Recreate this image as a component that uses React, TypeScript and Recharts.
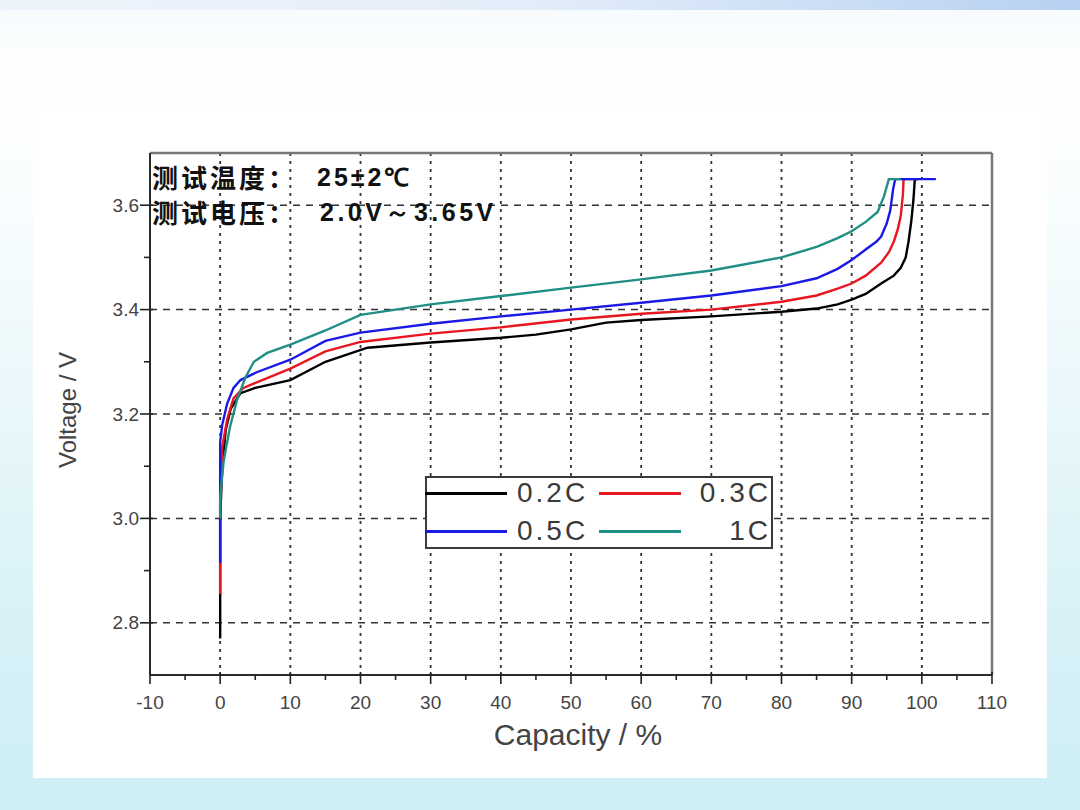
import React from 'react';
import { LineChart, Line, XAxis, YAxis, CartesianGrid, ReferenceLine, Legend } from 'recharts';

// capacity (%) / voltage (V), one pair per discharge rate
const cap02 = [0, 0, 0.3, 0.8, 1.5, 2.9, 5, 10, 15, 21, 30, 40, 45, 50, 55, 60, 70, 80, 85, 88, 90, 92, 94.2, 96, 97, 97.7, 98.1, 98.5, 98.8, 99, 99.5];
const volt02 = [2.77, 3.0, 3.1, 3.17, 3.21, 3.24, 3.25, 3.265, 3.3, 3.327, 3.337, 3.346, 3.352, 3.362, 3.375, 3.38, 3.387, 3.396, 3.402, 3.41, 3.419, 3.43, 3.45, 3.465, 3.48, 3.5, 3.53, 3.57, 3.61, 3.65, 3.65];

const cap03 = [0, 0, 0.3, 1, 1.9, 3.3, 6, 10, 15, 20, 30, 40, 50, 60, 70, 80, 85, 88, 90, 92, 94.2, 95.3, 96, 96.6, 97, 97.3, 97.4, 99.5];
const volt03 = [2.855, 3.0, 3.137, 3.19, 3.23, 3.25, 3.265, 3.287, 3.32, 3.338, 3.354, 3.366, 3.381, 3.392, 3.4, 3.415, 3.427, 3.44, 3.45, 3.465, 3.49, 3.51, 3.53, 3.555, 3.58, 3.62, 3.65, 3.65];

const cap05 = [0, 0, 0.3, 1, 1.9, 2.9, 5.2, 10, 15, 20, 30, 40, 50, 60, 70, 80, 85, 88, 90, 92, 93.5, 94.2, 95, 95.5, 95.9, 96.2, 102];
const volt05 = [2.915, 3.146, 3.18, 3.22, 3.25, 3.265, 3.28, 3.304, 3.34, 3.356, 3.373, 3.387, 3.4, 3.413, 3.427, 3.445, 3.46, 3.478, 3.495, 3.515, 3.53, 3.54, 3.565, 3.59, 3.63, 3.65, 3.65];

const cap1 = [0, 0, 0.5, 1.4, 2.4, 3.6, 4.8, 6.7, 10, 15, 20, 30, 40, 50, 60, 70, 80, 85, 88, 90, 92, 93.7, 94.6, 95.3, 97];
const volt1 = [3.0, 3.04, 3.11, 3.175, 3.227, 3.27, 3.3, 3.317, 3.333, 3.36, 3.39, 3.41, 3.426, 3.442, 3.458, 3.475, 3.5, 3.52, 3.537, 3.55, 3.568, 3.587, 3.617, 3.65, 3.65];

const xTicks = [-10, -5, 0, 5, 10, 15, 20, 25, 30, 35, 40, 45, 50, 55, 60, 65, 70, 75, 80, 85, 90, 95, 100, 105, 110];
const yTicks = [2.8, 2.9, 3.0, 3.1, 3.2, 3.3, 3.4, 3.5, 3.6];
const gridX = [0, 10, 20, 30, 40, 50, 60, 70, 80, 90, 100];
const gridY = [2.8, 3.0, 3.2, 3.4, 3.6];

const zip = (xs: number[], ys: number[]) => xs.map((x, i) => ({ x, v: ys[i] }));

const series = [
  { name: '0.2C', color: '#000000', data: zip(cap02, volt02) },
  { name: '0.3C', color: '#e8161e', data: zip(cap03, volt03) },
  { name: '0.5C', color: '#1a1ae6', data: zip(cap05, volt05) },
  { name: '1C', color: '#1f8f86', data: zip(cap1, volt1) },
];

const tickFont = { fontFamily: '"Liberation Sans Narrow", "Liberation Sans", Arial, sans-serif', fontSize: 19, fill: '#444' };

const YTick = (props: any) => {
  const { x, y, payload } = props;
  const major = Math.round(payload.value * 10) % 2 === 0;
  return (
    <g>
      <line x1={x - (major ? 10 : 6)} x2={x + (major ? 3 : 0)} y1={y} y2={y} stroke="#222" strokeWidth={1.6} />
      {major && (
        <text x={x - 11} y={y} dy="0.35em" textAnchor="end" {...tickFont}>
          {payload.value.toFixed(1)}
        </text>
      )}
    </g>
  );
};

const XTick = (props: any) => {
  const { x, y, payload } = props;
  const major = payload.value % 10 === 0;
  return (
    <g>
      <line x1={x} x2={x} y1={y - (major ? 3 : 0)} y2={y + (major ? 9 : 5)} stroke="#222" strokeWidth={1.6} />
      {major && (
        <text x={x} y={y + 27} dy="0.35em" textAnchor="middle" {...tickFont}>
          {payload.value}
        </text>
      )}
    </g>
  );
};

const LegendBox = (props: any) => {
  const items = props.payload || [];
  return (
    <div style={{ position: 'relative', width: 348, height: 73, boxSizing: 'border-box', border: '2px solid #3a3a3a', background: '#fff' }}>
      {items.map((it: any, i: number) => {
        const col = i % 2;
        const row = Math.floor(i / 2);
        const cy = row ? 53 : 15;
        const left = col ? 170 : -2;
        return (
          <div key={it.value} style={{ position: 'absolute', left, top: cy - 16, width: col ? 174 : 172, height: 32 }}>
            <div style={{ position: 'absolute', left: col ? 2 : 0, top: 15, width: 82, height: 3, background: it.color }} />
            <span
              style={{
                position: 'absolute',
                top: 0,
                lineHeight: '32px',
                fontFamily: '"Liberation Sans", Arial, sans-serif',
                fontSize: 28,
                letterSpacing: 3,
                color: '#3a3a3a',
                ...(col ? { right: 0 } : { left: 92 }),
              }}
            >
              {it.value}
            </span>
          </div>
        );
      })}
    </div>
  );
};

const cjk = '"Noto Sans CJK SC", "Noto Sans", sans-serif';
const latinBold = '"Liberation Sans", Arial, sans-serif';

export default function App() {
  return (
    <div
      style={{
        position: 'fixed',
        left: 0,
        top: 0,
        width: 1080,
        height: 810,
        overflow: 'hidden',
        background: 'linear-gradient(to bottom, #f7fbfd 0%, #ffffff 12%, #f3fbfd 35%, #d9f2f7 75%, #cdeef5 100%)',
      }}
    >
      <div style={{ position: 'absolute', left: 0, top: 0, width: 1080, height: 10, background: 'linear-gradient(to right, #eef4fb, #e3edf9 50%, #b7d1f2)' }} />
      <div style={{ position: 'absolute', left: 33, top: 112, width: 1014, height: 666, background: '#ffffff' }} />

      <div style={{ position: 'absolute', left: 0, top: 0 }}>
        <LineChart width={1080} height={810} data={series[0].data} margin={{ top: 153, right: 88, bottom: 95, left: 90 }}>
          <CartesianGrid vertical={false} horizontalValues={gridY} stroke="#333" strokeWidth={1.5} strokeDasharray="7 6" />
          <CartesianGrid horizontal={false} verticalValues={gridX} stroke="#333" strokeWidth={1.8} strokeDasharray="3 5" />
          <XAxis
            type="number"
            dataKey="x"
            domain={[-10, 110]}
            ticks={xTicks}
            interval={0}
            allowDataOverflow
            height={40}
            tickSize={0}
            tickMargin={0}
            tick={<XTick />}
            axisLine={{ stroke: '#2a2a2a', strokeWidth: 2 }}
          />
          <YAxis
            type="number"
            domain={[2.7, 3.7]}
            ticks={yTicks}
            interval={0}
            allowDataOverflow
            width={60}
            tickSize={0}
            tickMargin={0}
            tick={<YTick />}
            axisLine={{ stroke: '#2a2a2a', strokeWidth: 2 }}
          />
          <ReferenceLine y={3.7} stroke="#777" strokeWidth={2.5} />
          <ReferenceLine x={110} stroke="#777" strokeWidth={2.5} />
          {series.map((s) => (
            <Line
              key={s.name}
              name={s.name}
              data={s.data}
              dataKey="v"
              type="linear"
              stroke={s.color}
              strokeWidth={2.4}
              dot={false}
              activeDot={false}
              isAnimationActive={false}
            />
          ))}
          <Legend
            layout="vertical"
            align="center"
            verticalAlign="middle"
            content={<LegendBox />}
            wrapperStyle={{ left: 425, top: 476, width: 348, height: 73 }}
          />
        </LineChart>
      </div>

      {/* annotation in the top-left of the plot */}
      <div style={{ position: 'absolute', left: 152, top: 161, fontFamily: cjk, fontWeight: 700, fontSize: 26, lineHeight: '32px', color: '#111', letterSpacing: 3 }}>
        测试温度：
      </div>
      <div style={{ position: 'absolute', left: 317, top: 162, fontFamily: latinBold, fontWeight: 700, fontSize: 25, lineHeight: '30px', color: '#111', letterSpacing: 3 }}>
        25±2℃
      </div>
      <div style={{ position: 'absolute', left: 152, top: 196, fontFamily: cjk, fontWeight: 700, fontSize: 26, lineHeight: '32px', color: '#111', letterSpacing: 3 }}>
        测试电压：
      </div>
      <div style={{ position: 'absolute', left: 320, top: 197, fontFamily: latinBold, fontWeight: 700, fontSize: 25, lineHeight: '30px', color: '#111', letterSpacing: 3.5 }}>
        2.0V～3.65V
      </div>

      {/* axis titles */}
      <div
        style={{
          position: 'absolute',
          left: 68,
          top: 410,
          transform: 'translate(-50%, -50%) rotate(-90deg)',
          whiteSpace: 'nowrap',
          fontFamily: latinBold,
          fontSize: 24,
          color: '#444',
        }}
      >
        Voltage / V
      </div>
      <div
        style={{
          position: 'absolute',
          left: 578,
          top: 735,
          transform: 'translate(-50%, -50%)',
          whiteSpace: 'nowrap',
          fontFamily: latinBold,
          fontSize: 30,
          color: '#444',
        }}
      >
        Capacity / %
      </div>
    </div>
  );
}
